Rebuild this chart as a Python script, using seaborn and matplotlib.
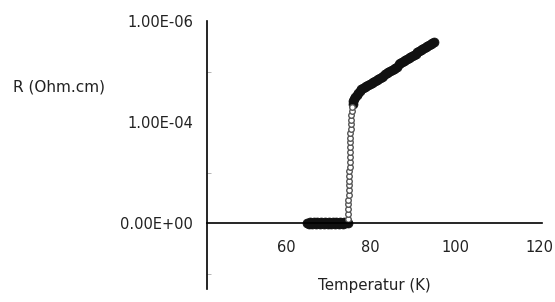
import matplotlib
matplotlib.use("Agg")
import matplotlib.pyplot as plt
import seaborn as sns
import pandas as pd

# resistance in units of 1e-4 Ohm.cm
flat_T = [65.0, 65.3, 65.6, 65.9, 66.2, 66.5, 66.8, 67.1, 67.4, 67.7, 68.0, 68.3,
          68.6, 68.9, 69.2, 69.5, 69.8, 70.1, 70.4, 70.7, 71.0, 71.3, 71.6, 71.9,
          72.2, 72.5, 72.8, 73.1, 73.4, 73.7, 74.0, 74.3, 74.6]
flat_R = [0.00, -0.01, 0.01, 0.00, -0.01, 0.01, 0.00, -0.01, 0.01, 0.00, -0.01,
          0.01, 0.00, -0.01, 0.01, 0.00, -0.01, 0.01, 0.00, -0.01, 0.01, 0.00,
          -0.01, 0.01, 0.00, -0.01, 0.01, 0.00, -0.01, 0.01, 0.00, 0.01, 0.00]

jump_T = [74.6, 74.6, 74.7, 74.7, 74.7, 74.8, 74.8, 74.8, 74.9, 74.9, 74.9, 75.0,
          75.0, 75.0, 75.1, 75.1, 75.1, 75.2, 75.2, 75.3, 75.3, 75.4, 75.4, 75.5, 75.6]
jump_R = [0.04, 0.09, 0.14, 0.19, 0.23, 0.28, 0.33, 0.38, 0.42, 0.47, 0.52, 0.56,
          0.61, 0.66, 0.70, 0.75, 0.80, 0.84, 0.89, 0.93, 0.98, 1.02, 1.07, 1.11, 1.15]

normal_T = [75.7, 75.9, 76.1, 76.4, 76.7, 77.0, 77.4, 77.8, 78.2, 78.6, 79.0,
            79.4, 79.8, 80.2, 80.6, 81.0, 81.4, 81.8, 82.2, 82.6, 83.0, 83.4,
            83.8, 84.2, 84.6, 85.0, 85.4, 85.8, 86.2, 86.6, 87.0, 87.4, 87.8,
            88.2, 88.6, 89.0, 89.4, 89.8, 90.2, 90.6, 91.0, 91.4, 91.8, 92.2,
            92.6, 93.0, 93.4, 93.8, 94.2, 94.6, 95.0]
normal_R = [1.18, 1.21, 1.23, 1.25, 1.27, 1.29, 1.31, 1.33, 1.34, 1.35, 1.36,
            1.37, 1.38, 1.39, 1.40, 1.41, 1.42, 1.43, 1.44, 1.45, 1.46, 1.48,
            1.49, 1.50, 1.51, 1.52, 1.53, 1.54, 1.55, 1.57, 1.58, 1.59, 1.60,
            1.61, 1.62, 1.63, 1.64, 1.65, 1.66, 1.67, 1.69, 1.70, 1.71, 1.72,
            1.73, 1.74, 1.75, 1.76, 1.77, 1.78, 1.79]

ytick_vals = [0, 1, 2]
ytick_labels = ["0.00E+00", "1.00E-04", "1.00E-06"]
xtick_vals = [60, 80, 100, 120]

dense = pd.DataFrame({"T": flat_T + normal_T, "R": flat_R + normal_R})
jump = pd.DataFrame({"T": jump_T, "R": jump_R})

sns.set_style("white")
plt.rcParams["font.family"] = ["DejaVu Sans"]

fig = plt.figure(figsize=(5.55, 3.02), dpi=100)
ax = fig.add_axes([207 / 555, 1 - 289 / 302, 335 / 555, 268 / 302])

# dense parts of the curve read as a solid black band
sns.scatterplot(data=dense, x="T", y="R", ax=ax, marker="o", s=42,
                color="#111111", edgecolor="#111111", linewidth=0.5, legend=False)
# the transition shows individual hollow circles
sns.scatterplot(data=jump, x="T", y="R", ax=ax, marker="o", s=16,
                facecolor="white", edgecolor="#555555", linewidth=1.0, legend=False)

ax.set_xlim(41.3, 120.5)
ax.set_ylim(-0.65, 2.0)

for side in ["top", "right"]:
    ax.spines[side].set_visible(False)
ax.spines["bottom"].set_position(("data", 0))
ax.spines["left"].set_color("black")
ax.spines["bottom"].set_color("black")
ax.spines["left"].set_linewidth(1.2)
ax.spines["bottom"].set_linewidth(1.2)

ax.set_xticks(xtick_vals)
ax.set_xticklabels([str(v) for v in xtick_vals])
ax.set_yticks(ytick_vals)
ax.set_yticklabels(ytick_labels)
ax.set_yticks([-0.5, 0.5, 1.5], minor=True)
ax.tick_params(axis="x", length=0, pad=12, labelsize=10.5, colors="#222222")
ax.tick_params(axis="y", which="major", direction="inout", length=4, pad=8,
               labelsize=10.5, colors="#222222")
ax.tick_params(axis="y", which="minor", direction="in", length=3, color="#aaaaaa",
               left=True)

ax.set_xlabel("Temperatur (K)", fontsize=10.8, color="#222222")
ax.xaxis.set_label_coords(0.5, 0.04)
ax.set_ylabel("")
fig.text(13 / 555, 1 - 87 / 302, "R (Ohm.cm)", fontsize=11, color="#222222",
         ha="left", va="center")

fig.savefig("out.png", dpi=100)
